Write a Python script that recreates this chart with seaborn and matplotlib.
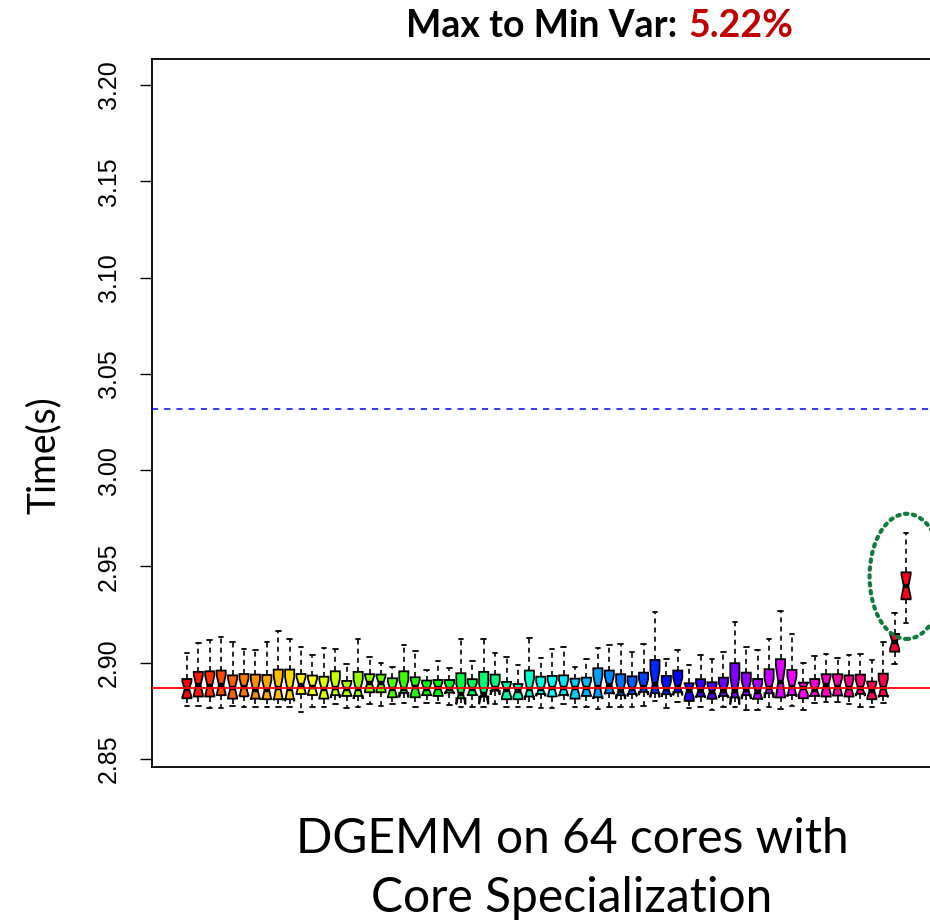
import colorsys

import numpy as np
import pandas as pd
import matplotlib
matplotlib.use("Agg")
import matplotlib.pyplot as plt
from matplotlib.patches import Ellipse
import seaborn as sns

# Per-core DGEMM run times (s): five-number summary of each core's runs
whisker_high = [
    2.9052, 2.9101, 2.9118, 2.9135, 2.9107, 2.9069, 2.9066, 2.9107,
    2.9163, 2.9121, 2.9082, 2.9040, 2.9078, 2.9069, 2.8991, 2.9125,
    2.9030, 2.9000, 2.8978, 2.9090, 2.9062, 2.8962, 2.9009, 2.8972,
    2.9125, 2.9009, 2.9125, 2.9049, 2.9028, 2.8988, 2.9130, 2.9026,
    2.9071, 2.9082, 2.8976, 2.9021, 2.9075, 2.9094, 2.9099, 2.9056,
    2.9095, 2.9265, 2.9018, 2.9066, 2.8990, 2.9038, 2.9018, 2.9056,
    2.9211, 2.9083, 2.9066, 2.9121, 2.9267, 2.9147, 2.9000, 2.9037,
    2.9047, 2.9024, 2.9040, 2.9047, 2.9012, 2.9107, 2.9260, 2.9672,
]
upper_hinge = [
    2.8915, 2.8952, 2.8955, 2.8959, 2.8934, 2.8941, 2.8938, 2.8936,
    2.8964, 2.8964, 2.8941, 2.8933, 2.8927, 2.8955, 2.8905, 2.8952,
    2.8940, 2.8938, 2.8919, 2.8955, 2.8924, 2.8907, 2.8910, 2.8910,
    2.8945, 2.8914, 2.8952, 2.8938, 2.8900, 2.8889, 2.8959, 2.8927,
    2.8931, 2.8934, 2.8917, 2.8922, 2.8971, 2.8959, 2.8940, 2.8929,
    2.8948, 2.9014, 2.8931, 2.8959, 2.8893, 2.8914, 2.8898, 2.8922,
    2.8997, 2.8948, 2.8915, 2.8966, 2.9018, 2.8962, 2.8896, 2.8915,
    2.8940, 2.8940, 2.8934, 2.8938, 2.8902, 2.8943, 2.9149, 2.9469,
]
median_time = [
    2.8862, 2.8884, 2.8879, 2.8884, 2.8867, 2.8872, 2.8858, 2.8858,
    2.8867, 2.8862, 2.8884, 2.8876, 2.8862, 2.8867, 2.8862, 2.8862,
    2.8893, 2.8893, 2.8862, 2.8865, 2.8872, 2.8862, 2.8867, 2.8865,
    2.8836, 2.8862, 2.8836, 2.8867, 2.8858, 2.8855, 2.8862, 2.8862,
    2.8867, 2.8867, 2.8867, 2.8867, 2.8872, 2.8884, 2.8855, 2.8862,
    2.8872, 2.8890, 2.8862, 2.8876, 2.8855, 2.8855, 2.8850, 2.8855,
    2.8855, 2.8858, 2.8850, 2.8867, 2.8902, 2.8876, 2.8867, 2.8858,
    2.8884, 2.8876, 2.8870, 2.8867, 2.8855, 2.8867, 2.9109, 2.9398,
]
lower_hinge = [
    2.8815, 2.8824, 2.8824, 2.8831, 2.8813, 2.8825, 2.8813, 2.8810,
    2.8810, 2.8810, 2.8837, 2.8832, 2.8813, 2.8831, 2.8827, 2.8827,
    2.8846, 2.8846, 2.8820, 2.8843, 2.8820, 2.8831, 2.8827, 2.8844,
    2.8815, 2.8831, 2.8824, 2.8855, 2.8810, 2.8810, 2.8824, 2.8837,
    2.8824, 2.8832, 2.8813, 2.8827, 2.8820, 2.8841, 2.8831, 2.8837,
    2.8848, 2.8841, 2.8836, 2.8846, 2.8801, 2.8824, 2.8812, 2.8827,
    2.8819, 2.8831, 2.8812, 2.8841, 2.8819, 2.8832, 2.8815, 2.8827,
    2.8824, 2.8829, 2.8824, 2.8838, 2.8810, 2.8827, 2.9057, 2.9329,
]
whisker_low = [
    2.8775, 2.8775, 2.8767, 2.8767, 2.8775, 2.8772, 2.8772, 2.8772,
    2.8772, 2.8772, 2.8746, 2.8768, 2.8768, 2.8786, 2.8763, 2.8768,
    2.8786, 2.8775, 2.8786, 2.8791, 2.8772, 2.8792, 2.8792, 2.8780,
    2.8768, 2.8768, 2.8768, 2.8784, 2.8768, 2.8772, 2.8768, 2.8763,
    2.8763, 2.8784, 2.8772, 2.8772, 2.8760, 2.8768, 2.8768, 2.8768,
    2.8775, 2.8803, 2.8763, 2.8798, 2.8763, 2.8768, 2.8754, 2.8768,
    2.8768, 2.8754, 2.8754, 2.8768, 2.8758, 2.8775, 2.8754, 2.8789,
    2.8798, 2.8798, 2.8786, 2.8772, 2.8772, 2.8789, 2.8992, 2.9204,
]

baseline_time = 2.887     # best median (solid red reference)
threshold_time = 3.0316   # +5% limit (dashed blue reference)
y_ticks = [2.85, 2.90, 2.95, 3.00, 3.05, 3.10, 3.15, 3.20]
title_text = "Max to Min Var:"
title_value = "5.22%"
x_title = ["DGEMM on 64 cores with", "Core Specialization"]
y_title = "Time(s)"

n_cores = len(median_time)
core_ids = [str(i + 1) for i in range(n_cores)]

# Expand every summary into a sample set (each statistic counted three times)
# so the boxplot reproduces the hinges, median and whisker ends of each core
summary = np.column_stack([whisker_low, lower_hinge, median_time,
                           upper_hinge, whisker_high])
runs = pd.DataFrame({
    "core": np.repeat(core_ids, summary.shape[1] * 3),
    "time": np.repeat(summary, 3, axis=1).ravel(),
})

rainbow = [colorsys.hsv_to_rgb(i / n_cores, 1.0, 1.0) for i in range(n_cores)]

sns.set_theme(style="white")
plt.rcParams["font.family"] = ["Liberation Sans", "DejaVu Sans"]

fig = plt.figure(figsize=(9.3, 9.24), dpi=100)
ax = fig.add_axes([152 / 930, 1 - 767 / 924, (941 - 152) / 930, (767 - 59) / 924])

sns.boxplot(
    data=runs, x="core", y="time", hue="core", palette=rainbow, legend=False,
    saturation=1, width=0.8, whis=(0, 100), linecolor="black", linewidth=1.3,
    shownotches=True,
    medianprops=dict(linewidth=3.2, color="black"),
    whiskerprops=dict(linestyle=(0, (3, 2.5)), linewidth=1.2),
    capprops=dict(linewidth=1.3),
    ax=ax,
)

ax.axhline(baseline_time, color="red", linewidth=1.3, zorder=5)
ax.axhline(threshold_time, color="blue", linewidth=1.1,
           linestyle=(0, (4, 4)), zorder=5)

# highlight the outlying core
ax.add_patch(Ellipse((63.05, 2.9448), width=6.5, height=0.065, fill=False,
                     edgecolor="#117a3d", linewidth=3.0,
                     linestyle=(0, (0.6, 1.3)), capstyle="round", zorder=6))

ax.set_xlim(-3.06, 66.06)
ax.set_ylim(2.8458, 3.2135)
ax.set_xticks([])
ax.set_xlabel("")
ax.set_ylabel("")
ax.set_yticks(y_ticks)
ax.set_yticklabels([f"{t:.2f}" for t in y_ticks], rotation=90, va="center")
ax.tick_params(axis="y", left=True, length=8.6, width=1.0, pad=14,
               labelsize=18, direction="out", color="black", labelcolor="black")
for side in ["left", "top", "bottom", "right"]:
    ax.spines[side].set_color("black")
    ax.spines[side].set_linewidth(1.3)

fig.text(677 / 930, 1 - 37 / 924, title_text, ha="right", va="baseline",
         fontsize=27, fontweight="bold", family=["Lato", "DejaVu Sans"],
         color="black")
fig.text(688 / 930, 1 - 37 / 924, title_value, ha="left", va="baseline",
         fontsize=27, fontweight="bold", family=["Lato", "DejaVu Sans"],
         color="#c00000")

fig.text(572 / 930, 1 - 853 / 924, x_title[0], ha="center", va="baseline",
         fontsize=34.5, family=["Lato", "DejaVu Sans"], color="black")
fig.text(572 / 930, 1 - 912 / 924, x_title[1], ha="center", va="baseline",
         fontsize=34.5, family=["Lato", "DejaVu Sans"], color="black")

fig.text(44 / 930, 1 - 455 / 924, y_title, rotation=90, ha="center",
         va="center", fontsize=27, family=["Lato", "DejaVu Sans"],
         color="black")

fig.savefig("out.png", dpi=100)
